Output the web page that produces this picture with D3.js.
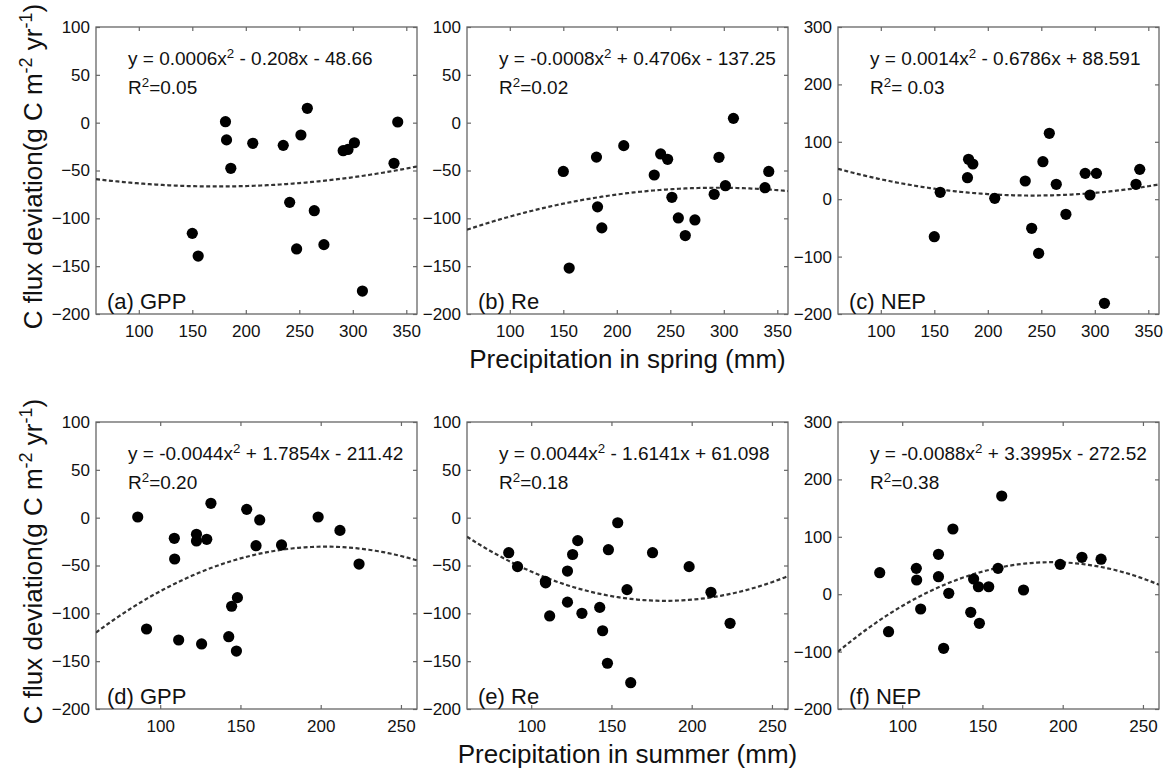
<!DOCTYPE html>
<html>
<head>
<meta charset="UTF-8">
<title>C flux deviation vs precipitation</title>
<script src="https://cdn.jsdelivr.net/npm/d3@7"></script>
<style>
    body { margin: 0; background: #fff; }
    svg text { font-family: "Liberation Sans", Arial, Helvetica, sans-serif; fill: #111; }
    .frame { fill: none; stroke: #666; stroke-width: 1.3px; }
    .tick line { stroke: #666; stroke-width: 1.2px; }
    .fit { fill: none; stroke: #333; stroke-width: 2.2px; stroke-dasharray: 4 2.5; }
</style>
</head>
<body>
<svg width="1169" height="771"></svg>
<script>
// spring precipitation (mm) and flux deviations (g C m-2 yr-1)
const springPrecip = [150, 155.5, 181, 182, 186, 206.5, 235, 241, 247.5, 251.5, 257.5, 264, 273, 291, 295.5, 301.5, 309, 338.5, 342];
const springGPP = [-115.7, -139.4, 1, -18, -47.7, -21.6, -23.7, -83.3, -132, -12.9, 15, -92, -127.5, -29.3, -28, -21, -176, -42.5, 0.7];
const springRe  = [-51, -152, -36, -88, -110, -24, -54.7, -32.7, -38.3, -78, -99.6, -118, -101.7, -74.9, -36.2, -65.9, 4.5, -68, -51];
const springNEP = [-65.3, 12, 37.5, 69.5, 61.3, 1.6, 31.7, -50.7, -94.3, 65.3, 114.8, 26, -26.3, 45, 7.3, 45, -181.4, 26, 52];

// summer precipitation (mm) and flux deviations
const summerPrecip = [86, 91.5, 108.8, 109, 111.5, 122.6, 122.6, 125.8, 129, 131.6, 142.7, 144.5, 147.5, 148.1, 153.9, 159.7, 162, 175.6, 198.4, 212, 223.9];
const summerGPP = [0.7, -116.4, -21.6, -43.2, -127.9, -17.4, -24.4, -132, -22.6, 15, -124.4, -92.6, -139.4, -83.6, 8.7, -29.3, -2.4, -28.5, 0.7, -13.3, -48.5];
const summerRe  = [-36.6, -51.2, -66.6, -68.2, -102.7, -88.3, -55.8, -38.5, -24, -100, -93.8, -118.2, -152.2, -33.5, -5.3, -75.2, -172.5, -36.6, -51.2, -78, -110.4];
const summerNEP = [37.5, -65.3, 45, 24.7, -25.8, 69.5, 30.5, -94.3, 1.6, 113.6, -31.5, 26.5, 13, -50.7, 13, 45, 171.1, 7.3, 52, 64.3, 61];

// quadratic fit coefficients [a, b, c] : y = a x^2 + b x + c
const fitCoefs = [
    [0.0006, -0.208, -48.66],
    [-0.0008, 0.4706, -137.25],
    [0.0014, -0.6786, 88.591],
    [-0.0044, 1.7854, -211.42],
    [0.0044, -1.6141, 61.098],
    [-0.0088, 3.3995, -272.52]
];
const eqLabels = [
    "y = 0.0006x^2 - 0.208x - 48.66",
    "y = -0.0008x^2 + 0.4706x - 137.25",
    "y = 0.0014x^2 - 0.6786x + 88.591",
    "y = -0.0044x^2 + 1.7854x - 211.42",
    "y = 0.0044x^2 - 1.6141x + 61.098",
    "y = -0.0088x^2 + 3.3995x - 272.52"
];
const r2Labels = ["=0.05", "=0.02", "= 0.03", "=0.20", "=0.18", "=0.38"];
const panelLabels = ["(a) GPP", "(b) Re", "(c) NEP", "(d) GPP", "(e) Re", "(f) NEP"];

const springTicks = [100, 150, 200, 250, 300, 350];
const summerTicks = [100, 150, 200, 250];
const fluxTicks = [-200, -150, -100, -50, 0, 50, 100];
const nepTicks = [-200, -100, 0, 100, 200, 300];
const xTitles = ["Precipitation in spring (mm)", "Precipitation in summer (mm)"];

const svg = d3.select("svg");

const colX = [96, 467, 838];
const rowY = [27, 422];
const pw = 321, ph = 287;

const panels = [
    { x: springPrecip, y: springGPP, xd: [60, 360], yd: [-200, 100], xt: springTicks, yt: fluxTicks },
    { x: springPrecip, y: springRe,  xd: [60, 360], yd: [-200, 100], xt: springTicks, yt: fluxTicks },
    { x: springPrecip, y: springNEP, xd: [60, 360], yd: [-200, 300], xt: springTicks, yt: nepTicks },
    { x: summerPrecip, y: summerGPP, xd: [60, 260], yd: [-200, 100], xt: summerTicks, yt: fluxTicks },
    { x: summerPrecip, y: summerRe,  xd: [60, 260], yd: [-200, 100], xt: summerTicks, yt: fluxTicks },
    { x: summerPrecip, y: summerNEP, xd: [60, 260], yd: [-200, 300], xt: summerTicks, yt: nepTicks }
];

function supText(sel, str, size) {
    // splits "a^2b" into text with a superscript 2
    const parts = str.split("^2");
    sel.append("tspan").text(parts[0]);
    if (parts.length > 1) {
        sel.append("tspan").attr("dy", -7).attr("font-size", size * 0.7).text("2");
        sel.append("tspan").attr("dy", 7).text(parts[1]);
    }
}

panels.forEach((p, i) => {
    const col = i % 3, row = Math.floor(i / 3);
    const g = svg.append("g").attr("transform", `translate(${colX[col]},${rowY[row]})`);

    const x = d3.scaleLinear().domain(p.xd).range([0, pw]);
    const y = d3.scaleLinear().domain(p.yd).range([ph, 0]);

    g.append("clipPath").attr("id", "clip" + i)
        .append("rect").attr("width", pw).attr("height", ph);

    // axes, ticks pointing inward
    g.append("g").attr("transform", `translate(0,${ph})`)
        .call(d3.axisBottom(x).tickValues(p.xt).tickSize(-4).tickPadding(11))
        .call(a => a.select(".domain").remove())
        .selectAll("text").attr("font-size", 17).attr("fill", "#111");
    g.append("g")
        .call(d3.axisTop(x).tickValues(p.xt).tickSize(-4).tickFormat(""))
        .call(a => a.select(".domain").remove());
    g.append("g")
        .call(d3.axisLeft(y).tickValues(p.yt).tickSize(-4).tickPadding(6))
        .call(a => a.select(".domain").remove())
        .selectAll("text").attr("font-size", 17).attr("fill", "#111");
    g.append("g").attr("transform", `translate(${pw},0)`)
        .call(d3.axisRight(y).tickValues(p.yt).tickSize(-4).tickFormat(""))
        .call(a => a.select(".domain").remove());
    g.selectAll(".tick text").attr("font-family", null);

    g.append("rect").attr("class", "frame").attr("width", pw).attr("height", ph);

    // fitted curve
    const c = fitCoefs[i];
    const xs = d3.range(p.xd[0], p.xd[1] + 0.5, 2);
    g.append("path").attr("class", "fit")
        .attr("clip-path", `url(#clip${i})`)
        .attr("d", d3.line()
            .x(d => x(d))
            .y(d => y(c[0] * d * d + c[1] * d + c[2]))(xs));

    // points
    g.selectAll("circle.pt")
        .data(p.x.map((v, k) => [v, p.y[k]]))
        .join("circle")
        .attr("class", "pt")
        .attr("cx", d => x(d[0]))
        .attr("cy", d => y(d[1]))
        .attr("r", 5.6)
        .attr("fill", "#000");

    // equation and R2
    const eq = g.append("text").attr("x", 32).attr("y", 38).attr("font-size", 19);
    supText(eq, eqLabels[i], 19);
    const r2 = g.append("text").attr("x", 32).attr("y", 67).attr("font-size", 19);
    supText(r2, "R^2" + r2Labels[i], 19);

    g.append("text").attr("x", 11).attr("y", ph - 5)
        .attr("font-size", 22).text(panelLabels[i]);
});

// x titles
xTitles.forEach((t, r) => {
    svg.append("text")
        .attr("x", colX[1] + pw / 2)
        .attr("y", rowY[r] + ph + 54)
        .attr("text-anchor", "middle")
        .attr("font-size", 26)
        .text(t);
});

// y titles
rowY.forEach(ry => {
    const t = svg.append("text")
        .attr("transform", `translate(42,${ry + ph / 2 - 4}) rotate(-90)`)
        .attr("text-anchor", "middle")
        .attr("font-size", 26);
    t.append("tspan").text("C flux deviation(g C m");
    t.append("tspan").attr("dy", -10).attr("font-size", 18).text("-2");
    t.append("tspan").attr("dy", 10).text(" yr");
    t.append("tspan").attr("dy", -10).attr("font-size", 18).text("-1");
    t.append("tspan").attr("dy", 10).text(")");
});
</script>
</body>
</html>
